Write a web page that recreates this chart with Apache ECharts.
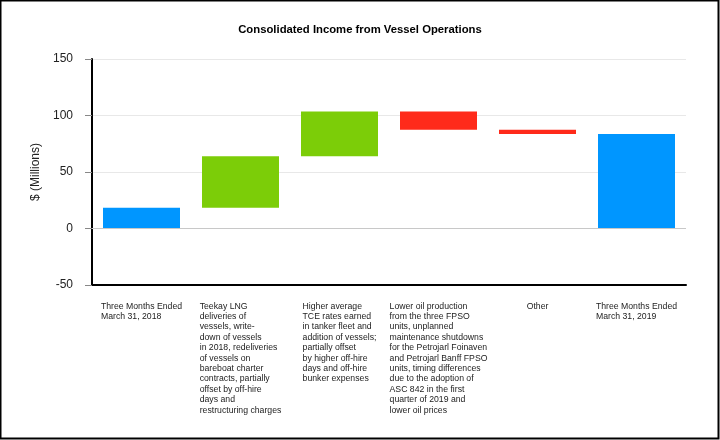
<!DOCTYPE html>
<html>
<head>
<meta charset="utf-8">
<script src="https://cdn.jsdelivr.net/npm/echarts@6/dist/echarts.min.js"></script>
<style>
html,body{margin:0;padding:0;background:#fff;}
#c{width:720px;height:440px;}
</style>
</head>
<body>
<div id="c"></div>
<script>
var categories = [
  "Three Months Ended\nMarch 31, 2018",
  "Teekay LNG\ndeliveries of\nvessels, write-\ndown of vessels\nin 2018, redeliveries\nof vessels on\nbareboat charter\ncontracts, partially\noffset by off-hire\ndays and\nrestructuring charges",
  "Higher average\nTCE rates earned\nin tanker fleet and\naddition of vessels;\npartially offset\nby higher off-hire\ndays and off-hire\nbunker expenses",
  "Lower oil production\nfrom the three FPSO\nunits, unplanned\nmaintenance shutdowns\nfor the Petrojarl Foinaven\nand Petrojarl Banff FPSO\nunits, timing differences\ndue to the adoption of\nASC 842 in the first\nquarter of 2019 and\nlower oil prices",
  "Other",
  "Three Months Ended\nMarch 31, 2019"
];
var startValue = 18.3;
var changes = [45.6, 39.6, -16.2, -3.6];
var endValue = 83.7;
var yTicks = [-50, 0, 50, 100, 150];

var colTotal = '#0096ff', colUp = '#7ccd08', colDown = '#ff2a1a';

var base = [0], heights = [startValue], colors = [colTotal];
var running = startValue;
changes.forEach(function (d) {
  if (d >= 0) { base.push(running); heights.push(d); colors.push(colUp); }
  else { base.push(running + d); heights.push(-d); colors.push(colDown); }
  running += d;
});
base.push(0); heights.push(endValue); colors.push(colTotal);

var chart = echarts.init(document.getElementById('c'));
chart.setOption({
  animation: false,
  backgroundColor: '#fff',
  title: {
    text: 'Consolidated Income from Vessel Operations',
    left: 'center', top: 19,
    textStyle: { fontFamily: 'Liberation Sans, Arial', fontWeight: 'bold', fontSize: 11.3, color: '#000' }
  },
  graphic: [{
    type: 'rect', silent: true, z: 100,
    shape: { x: 0.5, y: 0.5, width: 718, height: 438 },
    style: { fill: 'none', stroke: '#000', lineWidth: 2 }
  }],
  grid: { left: 92, right: 34, top: 59, bottom: 155 },
  xAxis: {
    type: 'category',
    data: categories,
    axisLine: { onZero: false, lineStyle: { color: '#000', width: 2 } },
    axisTick: { alignWithLabel: true, length: 6, lineStyle: { color: '#888' } },
    axisLabel: {
      interval: 0, margin: 16, verticalAlign: 'top',
      formatter: function (v) {
        return v.split('\n').map(function (l) { return '{a|' + l + '}'; }).join('\n');
      },
      rich: { a: { align: 'left', fontFamily: 'Liberation Sans, Arial', fontSize: 8.7, lineHeight: 10.4, color: '#222' } }
    }
  },
  yAxis: {
    type: 'value', min: yTicks[0], max: yTicks[yTicks.length - 1], interval: 50,
    name: '$ (Millions)', nameLocation: 'middle', nameGap: 47,
    nameTextStyle: { fontFamily: 'Liberation Sans, Arial', fontSize: 12, color: '#222' },
    axisLine: { show: true, lineStyle: { color: '#000', width: 2 } },
    axisTick: { show: true, length: 7, lineStyle: { color: '#888' } },
    axisLabel: { margin: 19, fontFamily: 'Liberation Sans, Arial', fontSize: 12, color: '#222' },
    splitLine: { lineStyle: { color: '#e8e8e8' } }
  },
  series: [{
    type: 'bar', stack: 'w', data: base, barWidth: 77,
    itemStyle: { color: 'transparent' }, silent: true
  }, {
    type: 'bar', stack: 'w', barWidth: 77,
    data: heights.map(function (h, i) { return { value: h, itemStyle: { color: colors[i] } }; }),
    markLine: {
      silent: true, symbol: 'none', label: { show: false },
      lineStyle: { color: '#c8c8c8', type: 'solid', width: 1 },
      data: [{ yAxis: 0 }]
    }
  }]
});
</script>
</body>
</html>
